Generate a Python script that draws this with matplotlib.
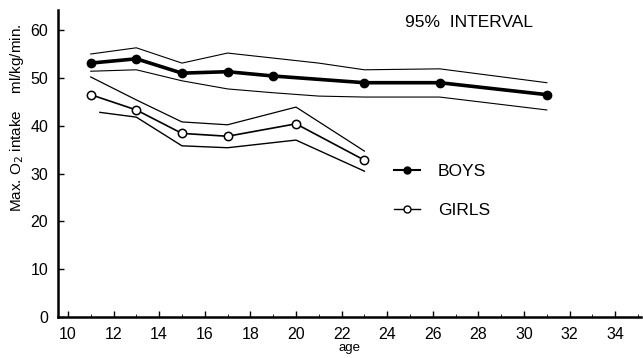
import numpy as np
from matplotlib import pyplot as plt
from matplotlib.lines import Line2D

# ages
boys_age = [11, 13, 15, 17, 19, 23, 26.3, 31]
boys_mean = [53.1, 54.0, 51.0, 51.3, 50.4, 49.0, 49.0, 46.5]
boys_up_age = [11, 13, 15, 17, 21, 23, 26.3, 31]
boys_upper = [55.0, 56.3, 53.1, 55.2, 53.1, 51.7, 51.9, 49.0]
boys_lo_age = [11, 13, 15, 17, 19, 21, 23, 26.3, 31]
boys_lower = [51.4, 51.7, 49.4, 47.7, 46.9, 46.2, 46.0, 46.0, 43.3]

girls_age = [11, 13, 15, 17, 20, 23]
girls_mean = [46.5, 43.3, 38.4, 37.8, 40.4, 32.8]
girls_upper = [50.2, 45.4, 40.8, 40.2, 43.9, 34.7]
girls_lo_age = [11.4, 13, 15, 17, 20, 23]
girls_lower = [42.8, 41.8, 35.8, 35.4, 37.0, 30.5]

xticks = [10, 12, 14, 16, 18, 20, 22, 24, 26, 28, 30, 32, 34]
yticks = [0, 10, 20, 30, 40, 50, 60]

plt.rcParams['font.family'] = ['Liberation Sans', 'DejaVu Sans']

fig = plt.figure(figsize=(6.43, 3.58), dpi=100)
ax = fig.add_axes([0.09, 0.1145, 0.907, 0.8575])

ax.plot(boys_up_age, boys_upper, color="black", lw=0.8)
ax.plot(boys_lo_age, boys_lower, color="black", lw=0.8)
ax.plot(boys_age, boys_mean, color="black", lw=2.6, marker="o", ms=6,
        mfc="black", mec="black")

ax.plot(girls_age, girls_upper, color="black", lw=0.9)
ax.plot(girls_lo_age, girls_lower, color="black", lw=1.0)
ax.plot(girls_age, girls_mean, color="black", lw=1.2, marker="o", ms=6,
        mfc="white", mec="black", mew=1.1)

ax.set_xlim(9.56, 35.13)
ax.set_ylim(0, 64.2)
ax.set_xticks(xticks)
ax.set_xticks(np.arange(10, 36, 1), minor=True)
ax.set_yticks(yticks)
ax.tick_params(axis="both", direction="in", labelsize=11.5, length=4, width=1)
ax.tick_params(axis="x", which="minor", direction="in", length=2.5)
ax.tick_params(axis="x", pad=7)
ax.tick_params(axis="y", pad=7)

for s in ["top", "right"]:
    ax.spines[s].set_visible(False)
ax.spines["left"].set_linewidth(1.8)
ax.spines["bottom"].set_linewidth(1.8)

ax.set_xlabel("age", fontsize=9.5, labelpad=0)
ax.set_ylabel("Max. O$_2$ intake    ml/kg/min.", fontsize=11)
ax.yaxis.set_label_coords(-0.055, 0.65)

ax.text(0.705, 0.985, "95%  INTERVAL", transform=ax.transAxes, fontsize=12.5,
        ha="center", va="top")

handles = [Line2D([0], [0], color="black", lw=1.5, marker="o", ms=5, mfc="black"),
           Line2D([0], [0], color="black", lw=1.0, marker="o", ms=5, mfc="white")]
ax.legend(handles, ["BOYS", "GIRLS"], loc="upper left",
          bbox_to_anchor=(0.55, 0.55), frameon=False, fontsize=12.5,
          handlelength=1.5, labelspacing=1.4, handletextpad=1.0)

plt.savefig("out.png", dpi=100)
